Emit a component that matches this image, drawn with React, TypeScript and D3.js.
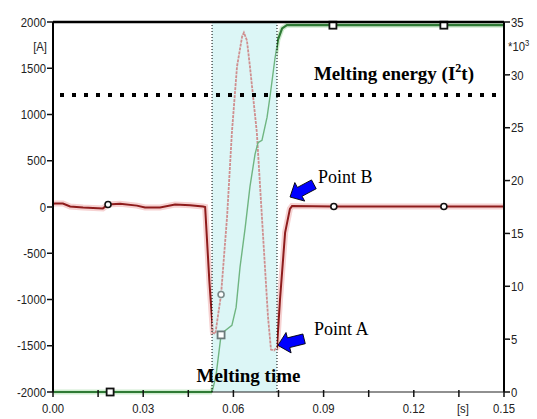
import React from 'react'
import {scaleLinear, line, range} from 'd3'

// current trace [A], left axis
const currentT = [0, 0.0007, 0.0033, 0.0057, 0.01, 0.0166, 0.0183, 0.0223, 0.0279, 0.0306, 0.0356, 0.0406, 0.0456, 0.0499, 0.0506, 0.052, 0.0532, 0.054, 0.0559, 0.0579, 0.0595, 0.0612, 0.0629, 0.0635, 0.0645, 0.0655, 0.0678, 0.0698, 0.0715, 0.0725, 0.0735, 0.0745, 0.0755, 0.0772, 0.0788, 0.0795, 0.0934, 0.13, 0.15]
const currentA = [35, 38, 38, 5, -5, -15, 27, 35, 15, -5, -5, 27, 20, 5, 0, -800, -1360, -1370, -946, -103, 805, 1519, 1843, 1886, 1800, 1519, 805, -276, -1184, -1541, -1550, -1519, -1000, -276, -20, 10, 5, 5, 5]

// melting energy I2t [*10^3], right axis
const energyT = [0, 0.0529, 0.0542, 0.0559, 0.0572, 0.0595, 0.0609, 0.0622, 0.0639, 0.0655, 0.0672, 0.0682, 0.0695, 0.0712, 0.0722, 0.0738, 0.0748, 0.0762, 0.0778, 0.15]
const energyK = [0, 0, 1.5, 5.4, 5.8, 6.3, 8.0, 11.8, 15.5, 19.4, 22.5, 23.6, 23.8, 26.0, 28.0, 31.5, 33.3, 34.4, 34.7, 34.7]

const circleT = [0.0183, 0.0559, 0.0934, 0.13]
const circleA = [27, -946, 5, 5]
const squareT = [0.019, 0.0559, 0.0931, 0.13]
const squareK = [0, 5.4, 34.7, 34.7]

const meltStart = 0.0529
const meltEnd = 0.0745
const meltEnergy = 28.1

const leftTicks = range(-2000, 2001, 500)
const rightTicks = range(0, 36, 5)
const bottomTicks = range(0, 0.1501, 0.015)
const bottomLabels = ['0.00', '', '0.03', '', '0.06', '', '0.09', '', '0.12', '[s]', '0.15']

const pointAT = 0.0738
const pointAA = -1550
const pointBT = 0.0795

const W = 537
const H = 419
const m = {top: 22, right: 33, bottom: 27, left: 53}

const tickFont = "'Liberation Sans','Arial',sans-serif"
const serif = "'Liberation Serif','Times New Roman',serif"

const arrowPath = 'M0,0 L11,-10.5 L11,-5 L27,-5 L27,5 L11,5 L11,10.5 Z'

// narrow tick label (the original uses a condensed face)
const Lbl = ({x, y, anchor, children}: any) => (
  <text transform={`translate(${x},${y}) scale(0.84,1)`} textAnchor={anchor} dy="0.35em">{children}</text>
)

export default function App() {
  const x = scaleLinear().domain([0, 0.15]).range([m.left, W - m.right])
  const yL = scaleLinear().domain([-2000, 2000]).range([H - m.bottom, m.top])
  const yR = scaleLinear().domain([0, 35]).range([H - m.bottom, m.top])

  const curLine = line<number>()
    .x((d, i) => x(currentT[i]))
    .y(d => yL(d))(currentA)
  const enLine = line<number>()
    .x((d, i) => x(energyT[i]))
    .y(d => yR(d))(energyK)

  const x0 = x(0), x1 = x(0.15), yTop = m.top, yBot = H - m.bottom
  const ms = x(meltStart), me = x(meltEnd)

  const tipB = [x(pointBT) - 2, yL(0) - 10]
  const tipA = [x(pointAT) + 3, yL(pointAA) - 5]

  return (
    <svg width={W} height={H} style={{position: 'absolute', left: 0, top: 0, background: '#fff'}}>
      <defs>
        <clipPath id="inside">
          <rect x={ms} y={0} width={me - ms} height={H} />
        </clipPath>
        <clipPath id="outside">
          <rect x={0} y={0} width={ms} height={H} />
          <rect x={me} y={0} width={W - me} height={H} />
        </clipPath>
      </defs>

      {/* melting time band */}
      <rect x={ms} y={yTop} width={me - ms} height={yBot - yTop} fill="#dcf6f6" />

      {/* halos */}
      <g clipPath="url(#outside)">
        <path d={curLine} fill="none" stroke="#f6d2d2" strokeWidth={6} />
        <path d={enLine} fill="none" stroke="#cfeccf" strokeWidth={5} />
      </g>

      {/* inside band: faded traces */}
      <g clipPath="url(#inside)">
        <path d={curLine} fill="none" stroke="#cf8f8f" strokeWidth={1.8} strokeDasharray="3,1" />
        <path d={enLine} fill="none" stroke="#6fb581" strokeWidth={1.4} />
      </g>
      <g clipPath="url(#outside)">
        <path d={curLine} fill="none" stroke="#8e1c1c" strokeWidth={2} />
        <path d={enLine} fill="none" stroke="#2f7a35" strokeWidth={2.2} />
      </g>

      {/* band borders */}
      <line x1={ms} x2={ms} y1={yTop} y2={yBot} stroke="#000" strokeWidth={1} strokeDasharray="1,2" />
      <line x1={me} x2={me} y1={yTop} y2={yBot} stroke="#000" strokeWidth={1} strokeDasharray="1,2" />

      {/* melting energy level */}
      <line x1={x0 + 7} x2={x1} y1={yR(meltEnergy)} y2={yR(meltEnergy)} stroke="#000" strokeWidth={4} strokeDasharray="4,8" />

      {/* markers */}
      {circleT.map((t, i) => {
        const inBand = t > meltStart && t < meltEnd
        return <circle key={'c' + i} cx={x(t)} cy={yL(circleA[i])} r={3} fill="#fff" stroke={inBand ? '#7a8a8a' : '#111'} strokeWidth={1.6} />
      })}
      {squareT.map((t, i) => {
        const inBand = t > meltStart && t < meltEnd
        return <rect key={'s' + i} x={x(t) - 3.5} y={yR(squareK[i]) - 3.5} width={7} height={7} fill="#fff" stroke={inBand ? '#6a7a7a' : '#111'} strokeWidth={1.8} />
      })}

      {/* frame / axes */}
      <line x1={x0} x2={x1} y1={yTop} y2={yTop} stroke="#000" strokeWidth={2.5} />
      <line x1={x0} x2={x0} y1={yTop} y2={yBot} stroke="#000" strokeWidth={2} />
      <line x1={x1} x2={x1} y1={yTop} y2={yBot} stroke="#000" strokeWidth={2} />
      <line x1={ms} x2={x1} y1={yBot} y2={yBot} stroke="#222" strokeWidth={1.2} />

      <g fontFamily={tickFont} fontSize={13.5} fill="#222">
        {leftTicks.map(v => (
          <g key={'l' + v}>
            <line x1={x0 - 6} x2={x0} y1={yL(v)} y2={yL(v)} stroke="#111" strokeWidth={1.5} />
            <Lbl x={x0 - 7} y={yL(v)} anchor="end">{v}</Lbl>
          </g>
        ))}
        <Lbl x={x0 - 6} y={yL(2000) + 24} anchor="end">[A]</Lbl>
        {rightTicks.map(v => (
          <g key={'r' + v}>
            <line x1={x1} x2={x1 + 6} y1={yR(v)} y2={yR(v)} stroke="#111" strokeWidth={1.5} />
            <Lbl x={x1 + 7} y={yR(v)} anchor="start">{v}</Lbl>
          </g>
        ))}
        <Lbl x={x1 + 4} y={yR(35) + 24} anchor="start">
          *10<tspan dy={-5} fontSize={9}>3</tspan>
        </Lbl>
        {bottomTicks.map((v, i) => (
          <g key={'b' + i}>
            <line x1={x(v)} x2={x(v)} y1={yBot - 2} y2={yBot + 5} stroke="#111" strokeWidth={1.5} />
            {bottomLabels[i] && (
              <Lbl x={x(v) + (bottomLabels[i] === '[s]' ? 4 : 0)} y={yBot + 16} anchor="middle">{bottomLabels[i]}</Lbl>
            )}
          </g>
        ))}
      </g>

      {/* annotations */}
      <g fontFamily={serif} fill="#000">
        <text x={x1 - 30} y={yR(meltEnergy) - 15} textAnchor="end" fontSize={19} fontWeight="bold">
          Melting energy (I<tspan dy={-8} fontSize={12}>2</tspan><tspan dy={8}>t)</tspan>
        </text>
        <text x={x((meltStart + meltEnd) / 2) + 4} y={yBot - 10} textAnchor="middle" fontSize={19} fontWeight="bold">Melting time</text>
        <text x={tipB[0] + 28} y={tipB[1] - 14} fontSize={18}>Point B</text>
        <text x={tipA[0] + 36} y={tipA[1] - 10} fontSize={18}>Point A</text>
      </g>

      <path d={arrowPath} transform={`translate(${tipB[0]},${tipB[1]}) rotate(-28)`} fill="#0000ff" stroke="#000" strokeWidth={0.8} />
      <path d={arrowPath} transform={`translate(${tipA[0]},${tipA[1]}) rotate(-14)`} fill="#0000ff" stroke="#000" strokeWidth={0.8} />
    </svg>
  )
}
